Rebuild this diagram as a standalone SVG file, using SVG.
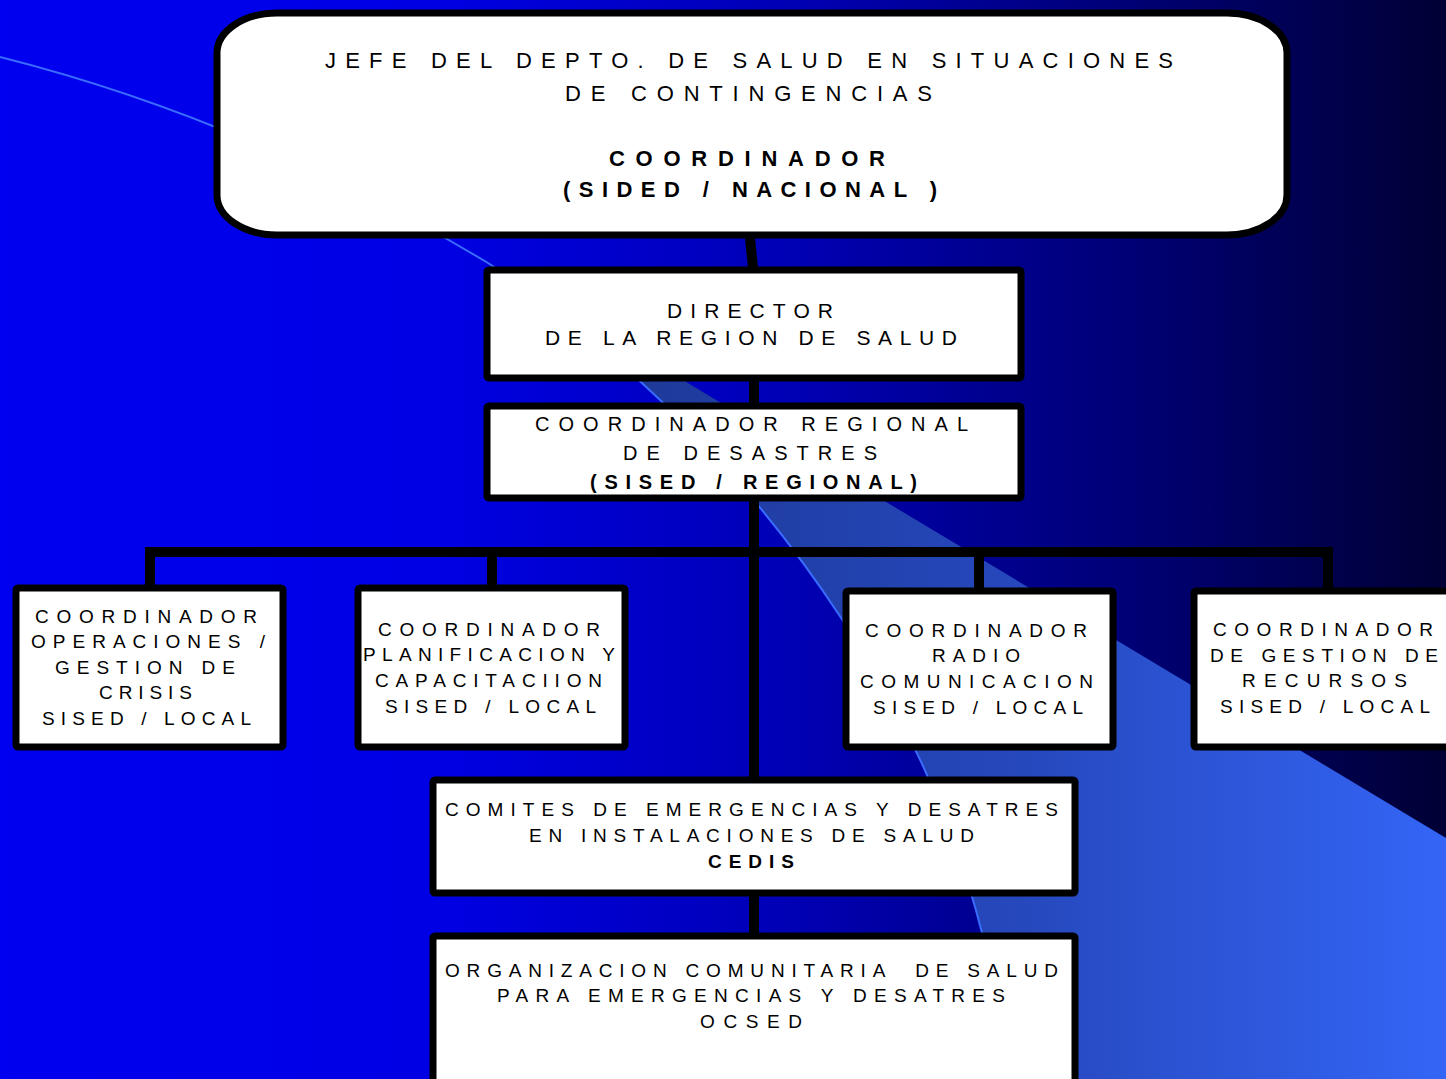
<svg xmlns="http://www.w3.org/2000/svg" width="1446" height="1079" viewBox="0 0 1446 1079">
<defs>
<linearGradient id="bg" x1="0" y1="0" x2="1446" y2="0" gradientUnits="userSpaceOnUse">
<stop offset="0" stop-color="#0000f0"/>
<stop offset="0.3" stop-color="#0000e4"/>
<stop offset="0.55" stop-color="#0000b4"/>
<stop offset="0.8" stop-color="#000070"/>
<stop offset="1" stop-color="#000035"/>
</linearGradient>
<linearGradient id="band" x1="600" y1="0" x2="1446" y2="0" gradientUnits="userSpaceOnUse">
<stop offset="0" stop-color="#1d3896"/>
<stop offset="0.5" stop-color="#2648bd"/>
<stop offset="1" stop-color="#3465f6"/>
</linearGradient>
<style>
.t{font-family:"Liberation Sans",Arial,Helvetica,sans-serif;fill:#000;}
.b{font-weight:bold;}
.s19{font-size:19px;}
.s20{font-size:20px;}
.s21{font-size:21px;}
.s22{font-size:22px;}
.box{fill:#fff;stroke:#000;stroke-width:7;}
.conn{stroke:#000;stroke-width:10;fill:none;stroke-linecap:square;}
</style>
</defs>

<g id="background">
<rect x="0" y="0" width="1446" height="1079" fill="url(#bg)"/>
<path d="M488,263 L1446,838 L1446,1079 L1005,1079 C985,760 760,440 488,263 Z" fill="url(#band)"/>
<path d="M0,57 Q250,120 488,263 C760,440 985,760 1005,1079" fill="none" stroke="#3a6cff" stroke-width="2"/>
</g>

<g id="connectors">
<line class="conn" x1="750" y1="238" x2="753" y2="268"/>
<line class="conn" x1="754" y1="380" x2="754" y2="404"/>
<line class="conn" x1="754" y1="500" x2="754" y2="778"/>
<path class="conn" d="M150,586 V552 H1328 V589" stroke-width="9" stroke-linejoin="miter"/>
<line class="conn" x1="492" y1="552" x2="492" y2="586" stroke-width="10"/>
<line class="conn" x1="979" y1="552" x2="979" y2="589" stroke-width="10"/>
<line class="conn" x1="754" y1="895" x2="754" y2="934"/>
</g>

<g id="node-jefe">
<rect class="box" x="217" y="13" width="1070" height="222" rx="60" ry="40"/>
<text class="t s22" x="325" y="68" textLength="848" lengthAdjust="spacing">JEFE DEL DEPTO. DE SALUD EN SITUACIONES</text>
<text class="t s22" x="565" y="101" textLength="367" lengthAdjust="spacing">DE CONTINGENCIAS</text>
<text class="t s22 b" x="609" y="166" textLength="276" lengthAdjust="spacing">COORDINADOR</text>
<text class="t s22 b" x="563" y="197" textLength="374" lengthAdjust="spacing">(SIDED / NACIONAL )</text>
</g>

<g id="node-director">
<rect class="box" x="487" y="270" width="534" height="108" rx="2"/>
<text class="t s21" x="667" y="318" textLength="166" lengthAdjust="spacing">DIRECTOR</text>
<text class="t s21" x="545" y="345" textLength="412" lengthAdjust="spacing">DE LA REGION DE SALUD</text>
</g>

<g id="node-coord-regional">
<rect class="box" x="487" y="406" width="534" height="92" rx="2"/>
<text class="t s20" x="535" y="431" textLength="433" lengthAdjust="spacing">COORDINADOR REGIONAL</text>
<text class="t s20" x="623" y="460" textLength="254" lengthAdjust="spacing">DE DESASTRES</text>
<text class="t s20 b" x="590" y="489" textLength="327" lengthAdjust="spacing">(SISED / REGIONAL)</text>
</g>

<g id="node-operaciones">
<rect class="box" x="16" y="588" width="267" height="159" rx="2"/>
<text class="t s19" x="35" y="623" textLength="222" lengthAdjust="spacing">COORDINADOR</text>
<text class="t s19" x="31" y="648" textLength="234" lengthAdjust="spacing">OPERACIONES /</text>
<text class="t s19" x="55" y="674" textLength="180" lengthAdjust="spacing">GESTION DE</text>
<text class="t s19" x="99" y="699" textLength="93" lengthAdjust="spacing">CRISIS</text>
<text class="t s19" x="42" y="725" textLength="209" lengthAdjust="spacing">SISED / LOCAL</text>
</g>

<g id="node-planificacion">
<rect class="box" x="358" y="588" width="267" height="159" rx="2"/>
<text class="t s19" x="378" y="636" textLength="222" lengthAdjust="spacing">COORDINADOR</text>
<text class="t s19" x="363" y="661" textLength="252" lengthAdjust="spacing">PLANIFICACION Y</text>
<text class="t s19" x="375" y="687" textLength="227" lengthAdjust="spacing">CAPACITACIION</text>
<text class="t s19" x="385" y="713" textLength="211" lengthAdjust="spacing">SISED / LOCAL</text>
</g>

<g id="node-radio">
<rect class="box" x="846" y="591" width="267" height="156" rx="2"/>
<text class="t s19" x="865" y="637" textLength="222" lengthAdjust="spacing">COORDINADOR</text>
<text class="t s19" x="932" y="662" textLength="88" lengthAdjust="spacing">RADIO</text>
<text class="t s19" x="860" y="688" textLength="233" lengthAdjust="spacing">COMUNICACION</text>
<text class="t s19" x="873" y="714" textLength="210" lengthAdjust="spacing">SISED / LOCAL</text>
</g>

<g id="node-recursos">
<rect class="box" x="1194" y="591" width="267" height="156" rx="2"/>
<text class="t s19" x="1213" y="636" textLength="220" lengthAdjust="spacing">COORDINADOR</text>
<text class="t s19" x="1210" y="662" textLength="228" lengthAdjust="spacing">DE GESTION DE</text>
<text class="t s19" x="1242" y="687" textLength="165" lengthAdjust="spacing">RECURSOS</text>
<text class="t s19" x="1220" y="713" textLength="210" lengthAdjust="spacing">SISED / LOCAL</text>
</g>

<g id="node-cedis">
<rect class="box" x="433" y="780" width="642" height="113" rx="2"/>
<text class="t s19" x="445" y="816" textLength="613" lengthAdjust="spacing">COMITES DE EMERGENCIAS Y DESATRES</text>
<text class="t s19" x="529" y="842" textLength="445" lengthAdjust="spacing">EN INSTALACIONES DE SALUD</text>
<text class="t s19 b" x="708" y="868" textLength="86" lengthAdjust="spacing">CEDIS</text>
</g>

<g id="node-ocsed">
<rect class="box" x="433" y="936" width="642" height="160" rx="2"/>
<text class="t s19" x="445" y="977" textLength="613" lengthAdjust="spacing" xml:space="preserve">ORGANIZACION COMUNITARIA  DE SALUD</text>
<text class="t s19" x="497" y="1002" textLength="508" lengthAdjust="spacing">PARA EMERGENCIAS Y DESATRES</text>
<text class="t s19" x="700" y="1028" textLength="102" lengthAdjust="spacing">OCSED</text>
</g>
</svg>
